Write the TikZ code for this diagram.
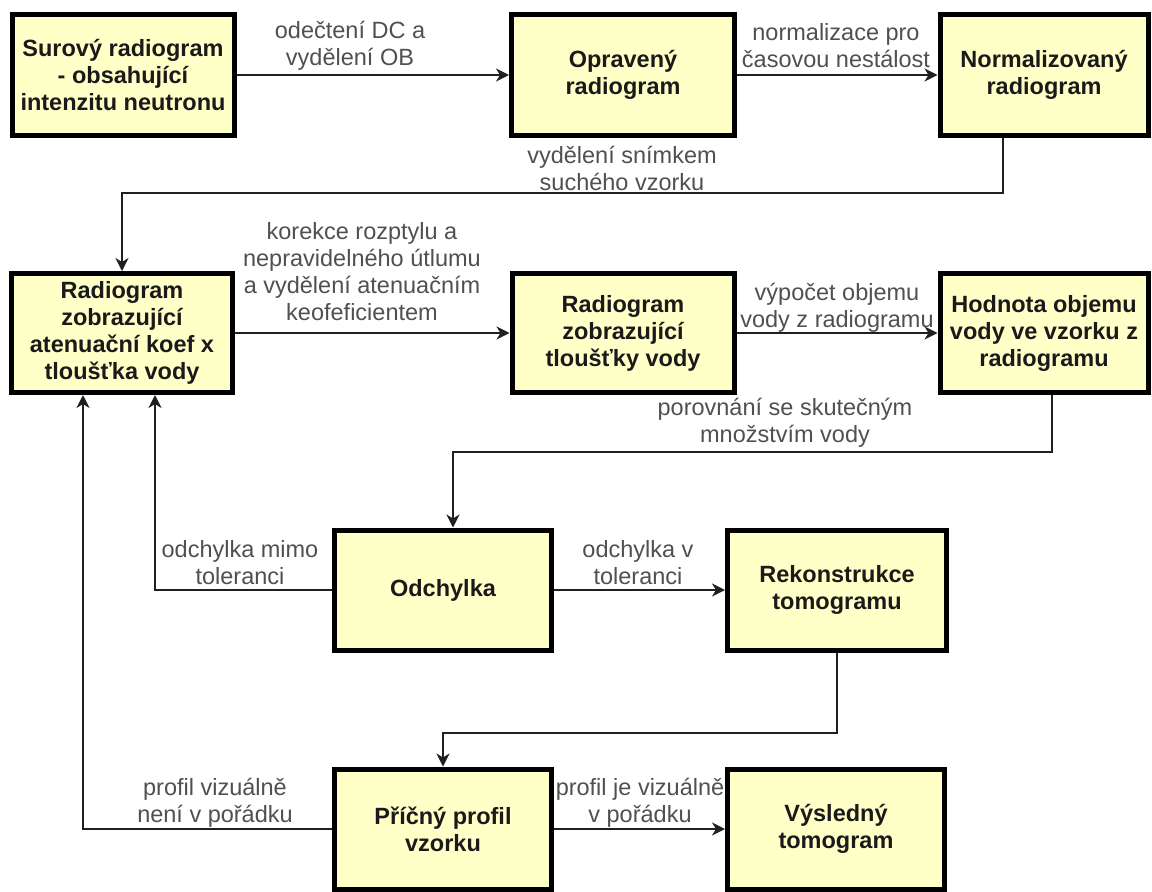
\documentclass[tikz,border=0pt]{standalone}
\usepackage{fontspec}
\setmainfont{Liberation Sans}
\usetikzlibrary{arrows.meta}
\definecolor{boxfill}{HTML}{FFFFC8}
\definecolor{lblgray}{HTML}{505050}
\definecolor{boxtext}{HTML}{1A1A1A}
\definecolor{linecol}{HTML}{202020}
\begin{document}
\begin{tikzpicture}[x=1pt,y=-1pt,
  box/.style={draw=black, line width=5pt, fill=boxfill, align=center, text=boxtext,
    inner sep=0pt, font=\fontsize{23.5}{27}\selectfont\bfseries},
  lbl/.style={align=center, text=lblgray, inner sep=0pt, font=\fontsize{23.5}{27}\selectfont},
  conn/.style={draw=linecol, line width=1.6pt, -{Stealth[length=13pt,width=13pt,inset=4pt]}}
]
\useasboundingbox[fill=white] (0,0) rectangle (1152,892);

% boxes
\node[box, minimum width=222pt, minimum height=121pt] (b1) at (123,75) {Surový radiogram\\- obsahující\\intenzitu neutronu};
\node[box, minimum width=223pt, minimum height=121pt] (b2) at (623,75) {Opravený\\radiogram};
\node[box, minimum width=208pt, minimum height=121pt] (b3) at (1044,75) {Normalizovaný\\radiogram};
\node[box, minimum width=221pt, minimum height=119pt] (b4) at (122,333) {Radiogram\\zobrazující\\atenuační koef x\\tloušťka vody};
\node[box, minimum width=222pt, minimum height=119pt] (b5) at (623,333) {Radiogram\\zobrazující\\tloušťky vody};
\node[box, minimum width=208pt, minimum height=119pt] (b6) at (1044,333) {Hodnota objemu\\vody ve vzorku z\\radiogramu};
\node[box, minimum width=217pt, minimum height=120pt] (b7) at (443,590) {Odchylka};
\node[box, minimum width=219pt, minimum height=120pt] (b8) at (837,590) {Rekonstrukce\\tomogramu};
\node[box, minimum width=217pt, minimum height=120pt] (b9) at (443,829) {Příčný profil\\vzorku};
\node[box, minimum width=217pt, minimum height=120pt] (b10) at (836,829) {Výsledný\\tomogram};

% bend points
\coordinate (k1) at (1003,193);
\coordinate (k2) at (122,193);
\coordinate (k3) at (1052,452);
\coordinate (k4) at (453,452);
\coordinate (k5) at (155,590);
\coordinate (k6) at (837,733);
\coordinate (k7) at (443,733);
\coordinate (k8) at (83,829);

% connectors
\draw[conn] (b1) -- (b2);
\draw[conn] (b2) -- (b3);
\draw[conn] (b3.south -| k1) -- (k1) -- (k2) -- (b4.north -| k2);
\draw[conn] (b4) -- (b5);
\draw[conn] (b5) -- (b6);
\draw[conn] (b6.south -| k3) -- (k3) -- (k4) -- (b7.north -| k4);
\draw[conn] (b7.west) -- (k5) -- (b4.south -| k5);
\draw[conn] (b7) -- (b8);
\draw[conn] (b8.south) -- (k6) -- (k7) -- (b9.north);
\draw[conn] (b9.west) -- (k8) -- (b4.south -| k8);
\draw[conn] (b9) -- (b10);

% labels
\node[lbl] (l1) at (350,46) {odečtení DC a\\vydělení OB};
\node[lbl] (l2) at (836,46) {normalizace pro\\časovou nestálost};
\node[lbl] (l3) at (622,168) {vydělení snímkem\\suchého vzorku};
\node[lbl] (l4) at (362,272) {korekce rozptylu a\\nepravidelného útlumu\\a vydělení atenuačním\\keofeficientem};
\node[lbl] (l5) at (837,308) {výpočet objemu\\vody z radiogramu};
\node[lbl] (l6) at (785,423) {porovnání se skutečným\\množstvím vody};
\node[lbl] (l7) at (240,563) {odchylka mimo\\toleranci};
\node[lbl] (l8) at (638,563) {odchylka v\\toleranci};
\node[lbl] (l9) at (215,803) {profil vizuálně\\není v pořádku};
\node[lbl] (l10) at (640,803) {profil je vizuálně\\v pořádku};
\end{tikzpicture}
\end{document}
